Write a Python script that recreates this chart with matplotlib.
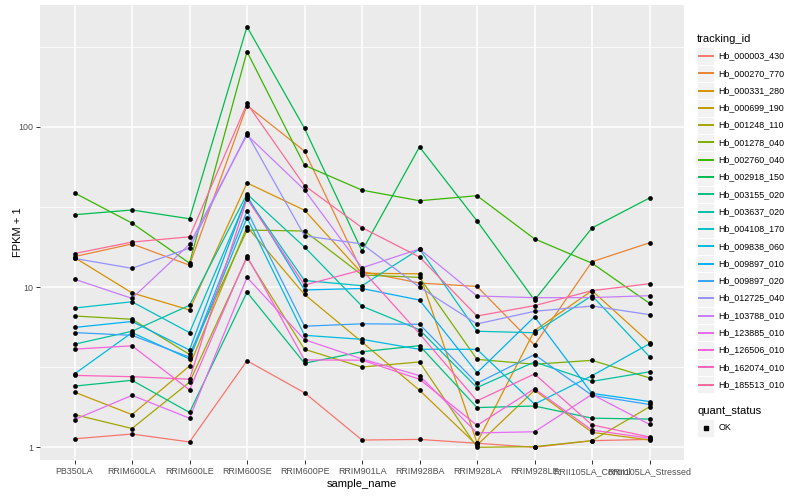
import math
import matplotlib
matplotlib.use("Agg")
import matplotlib.pyplot as plt
from matplotlib.lines import Line2D
from matplotlib.patches import Rectangle

plt.rcParams['font.family'] = ['Liberation Sans', 'DejaVu Sans']

sample_names = ["PB350LA", "RRIM600LA", "RRIM600LE", "RRIM600SE", "RRIM600PE",
                "RRIM901LA", "RRIM928BA", "RRIM928LA", "RRIM928LE",
                "RRII105LA_Control", "RRII105LA_Stressed"]

tracking_ids = ["Hb_000003_430", "Hb_000270_770", "Hb_000331_280", "Hb_000699_190",
                "Hb_001248_110", "Hb_001278_040", "Hb_002760_040", "Hb_002918_150",
                "Hb_003155_020", "Hb_003637_020", "Hb_004108_170", "Hb_009838_060",
                "Hb_009897_010", "Hb_009897_020", "Hb_012725_040", "Hb_103788_010",
                "Hb_123885_010", "Hb_126506_010", "Hb_162074_010", "Hb_185513_010"]

# FPKM + 1 per sample (same order as sample_names)
hb_000003_430 = [1.13, 1.21, 1.08, 3.47, 2.19, 1.11, 1.12, 1.06, 1.00, 1.10, 1.12]
hb_000270_770 = [15.5, 18.6, 13.7, 136, 70.6, 12.5, 10.6, 10.1, 4.35, 14.4, 18.9]
hb_000331_280 = [15.3, 9.2, 7.2, 44.7, 30.2, 12.2, 12.1, 1.07, 5.35, 9.5, 4.5]
hb_000699_190 = [2.21, 1.60, 3.22, 23.8, 9.0, 4.54, 2.27, 1.03, 2.27, 1.24, 1.11]
hb_001248_110 = [1.60, 1.31, 2.55, 15.3, 4.09, 3.17, 3.41, 1.00, 1.01, 1.10, 1.79]
hb_001278_040 = [6.6, 6.3, 3.8, 22.7, 22.4, 11.9, 11.5, 3.54, 3.30, 3.49, 2.71]
hb_002760_040 = [38.7, 25.1, 14.1, 295, 57.6, 40.3, 34.6, 37.2, 20.0, 14.1, 7.92]
hb_002918_150 = [28.3, 30.3, 26.7, 422, 98, 16.8, 75, 25.9, 8.3, 23.4, 36.0]
hb_003155_020 = [2.41, 2.62, 1.65, 9.3, 3.35, 3.95, 4.31, 1.77, 1.81, 1.52, 1.50]
hb_003637_020 = [4.4, 5.3, 7.7, 38.1, 17.8, 7.6, 5.42, 2.36, 3.41, 2.58, 2.96]
hb_004108_170 = [7.4, 8.1, 5.2, 36.1, 11.0, 10.2, 17.3, 5.30, 5.19, 8.84, 3.68]
hb_009838_060 = [2.87, 5.2, 3.56, 27.1, 5.0, 4.72, 4.09, 4.09, 1.86, 2.80, 4.43]
hb_009897_010 = [5.6, 6.1, 4.05, 37.0, 9.6, 9.8, 8.3, 2.92, 6.53, 2.17, 1.93]
hb_009897_020 = [5.2, 5.0, 3.65, 29.9, 5.7, 5.9, 5.86, 2.51, 3.79, 2.11, 1.85]
hb_012725_040 = [15.1, 13.1, 17.5, 91, 20.9, 18.6, 10.0, 5.89, 7.06, 7.62, 6.73]
hb_103788_010 = [11.2, 8.5, 18.5, 89, 40.4, 13.2, 17.3, 8.8, 8.59, 8.6, 8.84]
hb_123885_010 = [1.49, 2.11, 1.52, 11.5, 4.7, 3.56, 2.80, 1.23, 1.25, 2.14, 1.39]
hb_126506_010 = [4.1, 4.3, 2.28, 15.6, 3.51, 3.5, 2.66, 1.37, 2.32, 1.28, 1.14]
hb_162074_010 = [2.81, 2.76, 2.66, 35.6, 10.3, 12.8, 5.12, 1.95, 2.87, 1.38, 1.16]
hb_185513_010 = [16.2, 19.1, 20.6, 140, 43, 23.5, 15.4, 6.6, 7.66, 9.5, 10.5]

series = [hb_000003_430, hb_000270_770, hb_000331_280, hb_000699_190, hb_001248_110,
          hb_001278_040, hb_002760_040, hb_002918_150, hb_003155_020, hb_003637_020,
          hb_004108_170, hb_009838_060, hb_009897_010, hb_009897_020, hb_012725_040,
          hb_103788_010, hb_123885_010, hb_126506_010, hb_162074_010, hb_185513_010]

y_ticks = [1, 10, 100]
y_tick_labels = ["1", "10", "100"]


def hcl_hex(h, c=100.0, l=65.0):
    Xn, Yn, Zn = 95.047, 100.0, 108.883
    un = 4 * Xn / (Xn + 15 * Yn + 3 * Zn)
    vn = 9 * Yn / (Xn + 15 * Yn + 3 * Zn)
    hr = math.radians(h)
    U = c * math.cos(hr)
    V = c * math.sin(hr)
    Y = Yn * (((l + 16) / 116) ** 3 if l > 7.999592 else l / 903.3)
    u = U / (13 * l) + un
    v = V / (13 * l) + vn
    X = 9.0 * Y * u / (4 * v)
    Z = -X / 3 - 5 * Y + 3 * Y / v
    X, Y, Z = X / 100, Y / 100, Z / 100
    r = 3.240479 * X - 1.537150 * Y - 0.498535 * Z
    g = -0.969256 * X + 1.875992 * Y + 0.041556 * Z
    b = 0.055648 * X - 0.204043 * Y + 1.057311 * Z

    def gam(t):
        t = 1.055 * t ** (1 / 2.4) - 0.055 if t > 0.0031308 else 12.92 * t
        return min(max(t, 0.0), 1.0)
    return (gam(r), gam(g), gam(b))


n = len(tracking_ids)
colors = [hcl_hex(15 + 360.0 * i / n) for i in range(n)]

W, H = 800, 500
fig = plt.figure(figsize=(8, 5), dpi=100)
fig.patch.set_facecolor("white")
pl, pr, pt, pb = 40, 684, 5, 460
ax = fig.add_axes([pl / W, 1 - pb / H, (pr - pl) / W, (pb - pt) / H])
ax.set_facecolor("#EBEBEB")
ax.set_yscale("log")
ylo = 10 ** ((447.3 - 460) / 160.2)
yhi = 10 ** ((447.3 - 5) / 160.2)
ax.set_ylim(ylo, yhi)
ax.set_xlim(-0.6, len(sample_names) - 1 + 0.6)

# grid
for e in [0.5, 1.5, 2.5]:
    ax.axhline(10 ** e, color="white", lw=0.55, zorder=0.5)
for t in y_ticks:
    ax.axhline(t, color="white", lw=1.1, zorder=0.6)
for i in range(len(sample_names)):
    ax.axvline(i, color="white", lw=1.1, zorder=0.6)

xs = list(range(len(sample_names)))
for vals, col in zip(series, colors):
    ax.plot(xs, vals, color=col, lw=0.9, zorder=2, solid_capstyle="butt")
for vals in series:
    ax.plot(xs, vals, linestyle="none", marker="o", ms=3.4, mfc="black",
            mec="black", mew=0, zorder=3)

for s in ax.spines.values():
    s.set_visible(False)
ax.set_yticks(y_ticks)
ax.set_yticklabels(y_tick_labels)
ax.yaxis.set_minor_locator(matplotlib.ticker.NullLocator())
ax.set_xticks(xs)
ax.set_xticklabels(sample_names)
ax.tick_params(axis="both", colors="#333333", labelcolor="#4D4D4D",
               labelsize=6.4, length=3, width=0.7, pad=2)
ax.set_xlabel("sample_name", fontsize=8, color="black", labelpad=2)
ax.yaxis.set_label_coords(-22.0 / (pr - pl), 0.5)
ax.set_ylabel("FPKM + 1", fontsize=8, color="black", va="center")

# legend: tracking_id
lx0 = 697
key = 17.3
fig.text(lx0 / W, 1 - 39 / H, "tracking_id", fontsize=8, va="center", ha="left")
for i, (name, col) in enumerate(zip(tracking_ids, colors)):
    yc = 56 + 17.3 * i
    fig.patches.append(Rectangle((lx0 / W, 1 - (yc + key / 2) / H), key / W, key / H,
                                 transform=fig.transFigure, facecolor="#F2F2F2",
                                 edgecolor="white", lw=0.6, zorder=1))
    fig.lines.append(Line2D([(lx0 + 1.5) / W, (lx0 + key - 1.5) / W],
                            [1 - yc / H, 1 - yc / H], transform=fig.transFigure,
                            color=col, lw=1.4, zorder=3))
    fig.text((lx0 + key + 4) / W, 1 - yc / H, name, fontsize=6.4, va="center", ha="left")

# legend: quant_status
fig.text(lx0 / W, 1 - 411 / H, "quant_status", fontsize=8, va="center", ha="left")
yc = 428
fig.patches.append(Rectangle((lx0 / W, 1 - (yc + key / 2) / H), key / W, key / H,
                             transform=fig.transFigure, facecolor="#F2F2F2",
                             edgecolor="white", lw=0.6, zorder=1))
fig.lines.append(Line2D([(lx0 + key / 2) / W], [1 - yc / H], transform=fig.transFigure,
                        linestyle="none", marker="s", ms=2.8, color="black", zorder=3))
fig.text((lx0 + key + 4) / W, 1 - yc / H, "OK", fontsize=6.4, va="center", ha="left")

fig.savefig("out.png", dpi=100)
